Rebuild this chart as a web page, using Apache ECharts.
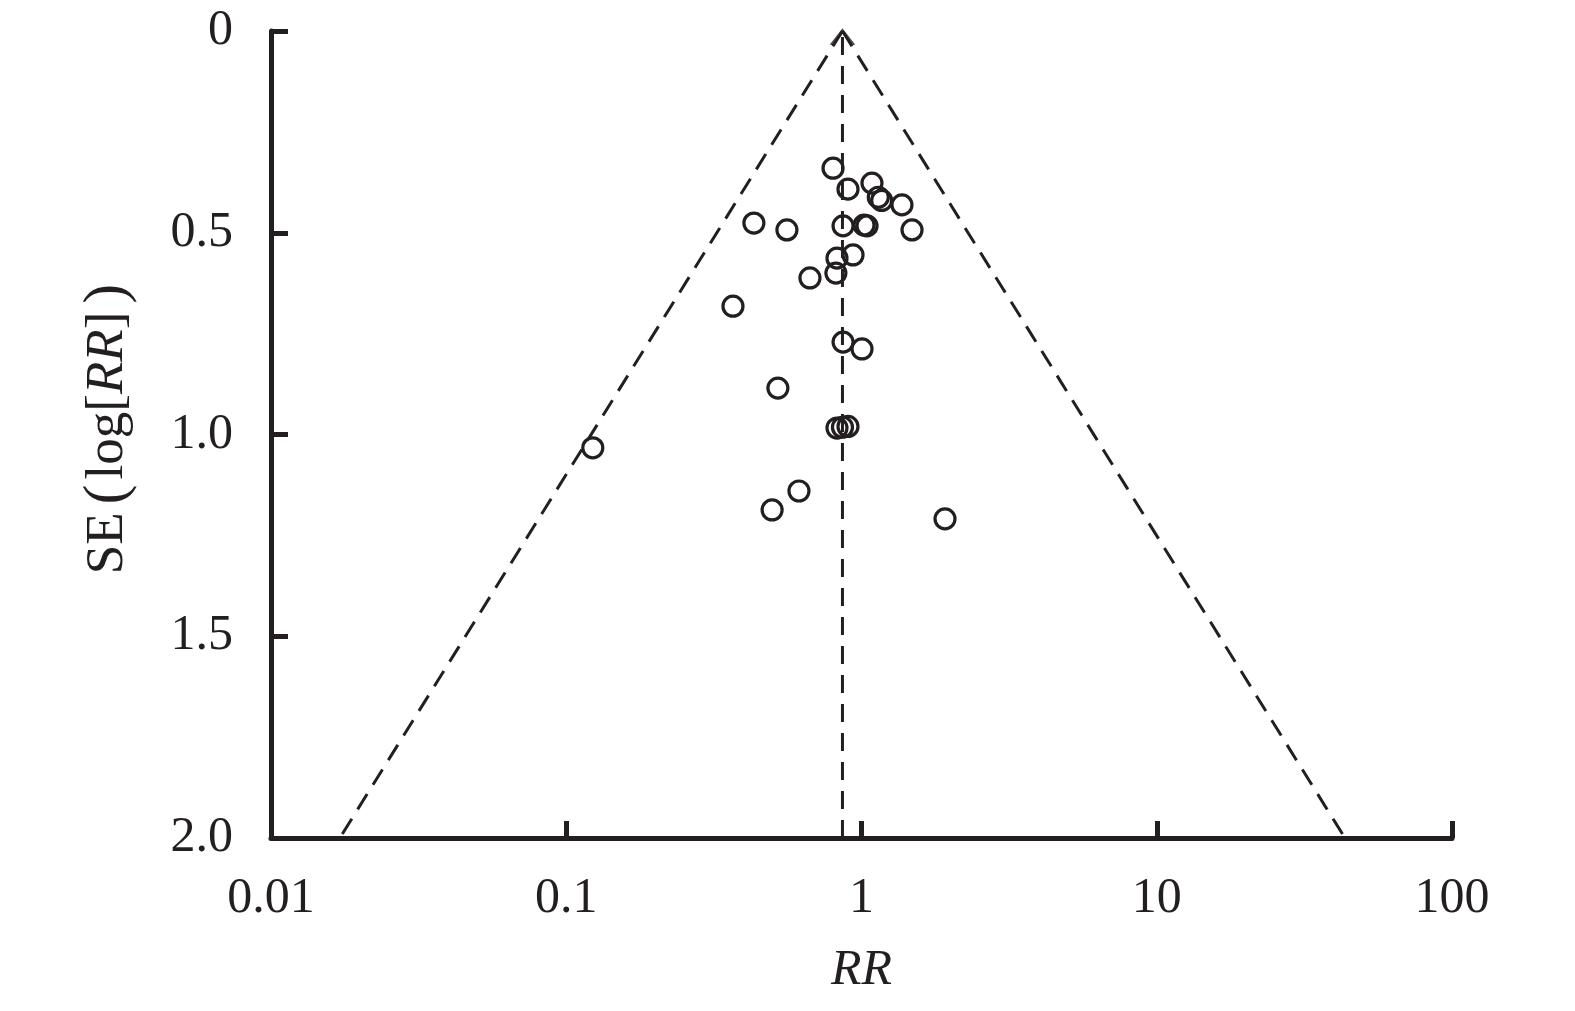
<!DOCTYPE html>
<html>
<head>
<meta charset="utf-8">
<script src="https://cdn.jsdelivr.net/npm/echarts@6/dist/echarts.min.js"></script>
<style>
html,body{margin:0;padding:0;background:#fff;}
#chart{width:1575px;height:1011px;}
</style>
</head>
<body>
<div id="chart"></div>
<script>
// Study points: RR (x) and SE(log[RR]) (y)
var studyRR = [0.801, 0.900, 1.085, 1.14, 1.17, 1.371, 0.432, 0.559, 0.866, 1.02, 1.044, 1.483,
               0.826, 0.936, 0.819, 0.669, 0.367, 0.866, 1.004, 0.521, 0.826, 0.862, 0.900,
               0.123, 0.614, 0.498, 1.918];
var studySE = [0.340, 0.392, 0.377, 0.412, 0.420, 0.431, 0.476, 0.493, 0.483, 0.481, 0.483, 0.493,
               0.563, 0.555, 0.600, 0.612, 0.682, 0.771, 0.788, 0.885, 0.984, 0.982, 0.980,
               1.033, 1.140, 1.187, 1.209];
// Pooled estimate and funnel limits
var pooledRR = 0.862;
var centerLine = [[0.862, 2.0], [0.862, 0]];
var funnelLeft = [[0.862, 0], [0.0171, 2.0]];
var funnelRight = [[0.862, 0], [43.4, 2.0]];
// Tick labels
var xTickLabels = {"0.01": "0.01", "0.1": "0.1", "1": "1", "10": "10", "100": "100"};
var yTicks = [0, 0.5, 1.0, 1.5, 2.0];

var ink = '#231f20';
var serif = '"Liberation Serif","DejaVu Serif",serif';

var points = studyRR.map(function (r, i) { return [r, studySE[i]]; });

var chart = echarts.init(document.getElementById('chart'));
chart.setOption({
  animation: false,
  backgroundColor: '#fff',
  grid: { left: 271, right: 123, top: 31, bottom: 173 },
  xAxis: {
    type: 'log', logBase: 10, min: 0.01, max: 100,
    name: 'RR', nameLocation: 'middle', nameGap: 108,
    nameTextStyle: { fontFamily: serif, fontSize: 50, fontStyle: 'italic', color: ink },
    axisLine: { show: true, onZero: false, lineStyle: { color: ink, width: 5 } },
    axisTick: { show: true, inside: true, length: 17, lineStyle: { color: ink, width: 5 } },
    splitLine: { show: false },
    minorTick: { show: false },
    axisLabel: {
      margin: 36, fontFamily: serif, fontSize: 50, color: ink,
      formatter: function (v) {
        var k = String(+v.toPrecision(3));
        return xTickLabels[k] !== undefined ? xTickLabels[k] : k;
      }
    }
  },
  yAxis: {
    type: 'value', inverse: true, min: 0, max: 2, interval: 0.5,
    name: '{a|SE}{p|(}{a|log[}{i|RR}{a|]}{p|)}', nameLocation: 'middle', nameGap: 133, nameRotate: 90,
    nameTextStyle: {
      padding: [0, 0, 0, 16],
      rich: {
        a: { fontFamily: serif, fontSize: 53, color: ink },
        i: { fontFamily: serif, fontSize: 53, fontStyle: 'italic', color: ink },
        p: { fontFamily: serif, fontSize: 60, color: ink, padding: [0, 5, 0, 8] }
      }
    },
    axisLine: { show: true, onZero: false, lineStyle: { color: ink, width: 5 } },
    axisTick: { show: true, inside: true, length: 17, lineStyle: { color: ink, width: 5 } },
    splitLine: { show: false },
    axisLabel: {
      margin: 38, fontFamily: serif, fontSize: 50, color: ink,
      formatter: function (v) { return v === 0 ? '0' : v.toFixed(1); }
    }
  },
  series: [
    {
      type: 'line', data: funnelLeft, symbol: 'none', silent: true,
      lineStyle: { color: ink, width: 3, type: [18, 11] }
    },
    {
      type: 'line', data: funnelRight, symbol: 'none', silent: true,
      lineStyle: { color: ink, width: 3, type: [18, 11] }
    },
    {
      type: 'line', data: centerLine, symbol: 'none', silent: true,
      lineStyle: { color: ink, width: 3, type: [18, 11] }
    },
    {
      type: 'scatter', data: [[pooledRR, 0]], silent: true,
      symbol: 'path://M0,12 L11,0 L22,12', symbolSize: [22, 14], symbolOffset: [0, 7],
      itemStyle: { color: 'rgba(0,0,0,0)', borderColor: ink, borderWidth: 3 }
    },
    {
      type: 'scatter', data: points, symbol: 'circle', symbolSize: 20,
      itemStyle: { color: 'rgba(0,0,0,0)', borderColor: ink, borderWidth: 3.2, opacity: 1 }
    }
  ]
});
</script>
</body>
</html>
